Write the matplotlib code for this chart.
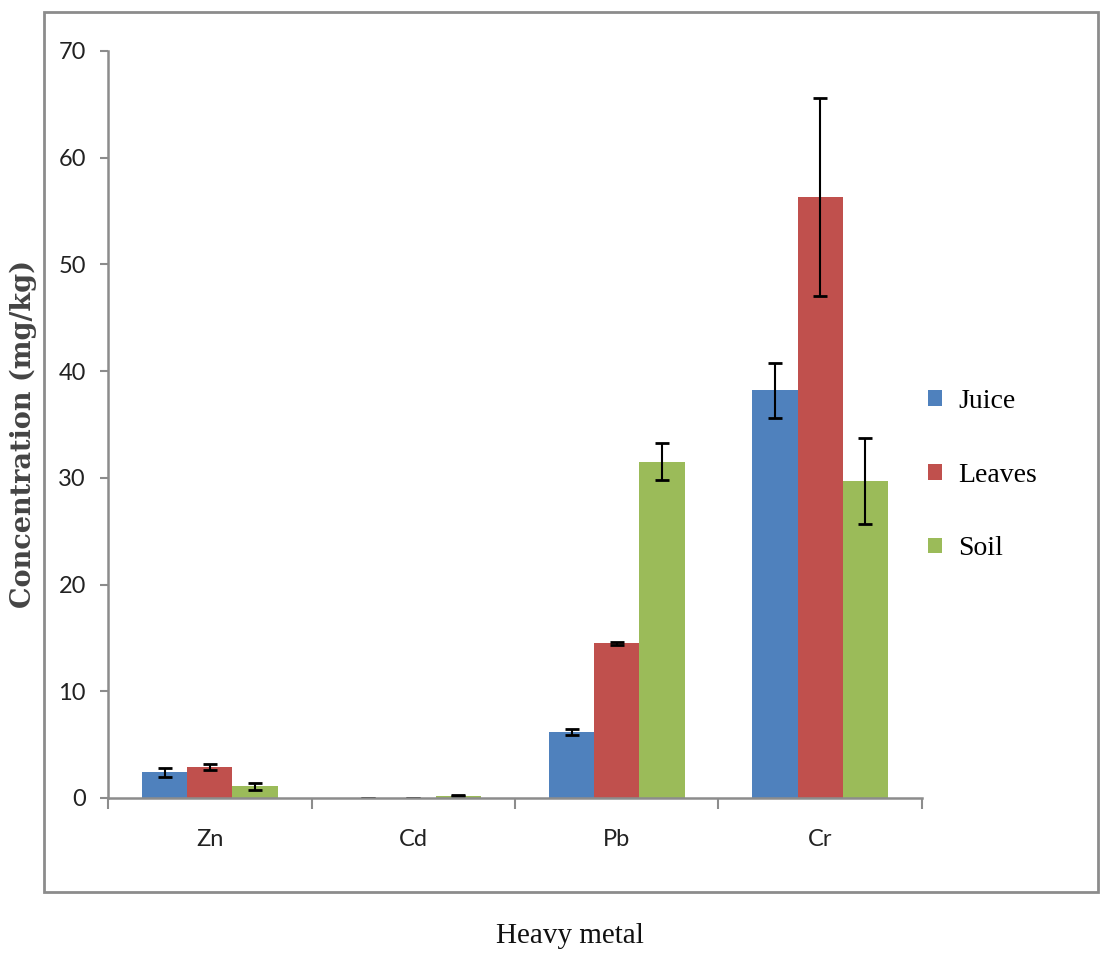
import matplotlib
matplotlib.use("Agg")
import matplotlib.pyplot as plt
import numpy as np
from matplotlib.patches import Rectangle

categories = ["Zn", "Cd", "Pb", "Cr"]
series_names = ["Juice", "Leaves", "Soil"]
juice = [2.4, 0.0, 6.2, 38.2]
juice_err = [0.45, 0.0, 0.3, 2.6]
leaves = [2.9, 0.0, 14.5, 56.3]
leaves_err = [0.25, 0.0, 0.15, 9.3]
soil = [1.1, 0.2, 31.5, 29.7]
soil_err = [0.35, 0.05, 1.75, 4.0]
colors = ["#4F81BD", "#C0504D", "#9BBB59"]
yticks = [0, 10, 20, 30, 40, 50, 60, 70]

fig = plt.figure(figsize=(11.01, 9.6), dpi=100)
fig.patches.append(Rectangle((0.04, 0.0708), 0.957, 0.9167, transform=fig.transFigure,
                             fill=False, edgecolor="#8c8c8c", linewidth=2.0))
ax = fig.add_axes([0.0981, 0.16875, 0.7393, 0.7782])

x = np.arange(len(categories))
w = 0.222
data = [(juice, juice_err), (leaves, leaves_err), (soil, soil_err)]
for i, ((vals, errs), c, name) in enumerate(zip(data, colors, series_names)):
    ax.bar(x + (i - 1) * w, vals, width=w, color=c, label=name, zorder=2,
           yerr=errs, error_kw=dict(ecolor="black", elinewidth=1.5, capsize=5, capthick=2))

ax.set_xlim(-0.5, len(categories) - 0.5)
ax.set_ylim(0, 70)
ax.set_yticks(yticks)
ax.set_yticklabels([str(v) for v in yticks], fontfamily="Lato", fontsize=17, color="#222222")
ax.set_xticks(np.arange(len(categories) + 1) - 0.5)
ax.set_xticklabels([])
ax.set_xticks(x, minor=True)
ax.set_xticklabels(categories, minor=True, fontfamily="Lato", fontsize=17, color="#222222")
ax.tick_params(axis="x", which="minor", length=0, pad=22)
ax.tick_params(axis="x", which="major", length=8, width=1.5, color="#8c8c8c")
ax.tick_params(axis="y", length=6, width=1.5, color="#8c8c8c", pad=10)
for s in ["top", "right"]:
    ax.spines[s].set_visible(False)
for s in ["left", "bottom"]:
    ax.spines[s].set_color("#8c8c8c")
    ax.spines[s].set_linewidth(1.8)

fig.text(0.021, 0.548, "Concentration (mg/kg)", rotation=90, ha="center", va="center",
         fontfamily="DejaVu Serif", fontsize=19.5, fontweight="bold", color="#444444")
fig.text(0.518, 0.025, "Heavy metal", ha="center", va="center",
         fontfamily="Liberation Serif", fontsize=21, color="#111111")

leg = ax.legend(loc="center left", bbox_to_anchor=(0.83, 0.505), bbox_transform=fig.transFigure,
                frameon=False, borderpad=0,
                prop={"family": "Liberation Serif", "size": 20}, handlelength=0.5, handleheight=0.5,
                handletextpad=0.6, labelspacing=1.75)

fig.savefig("out.png", dpi=100)
